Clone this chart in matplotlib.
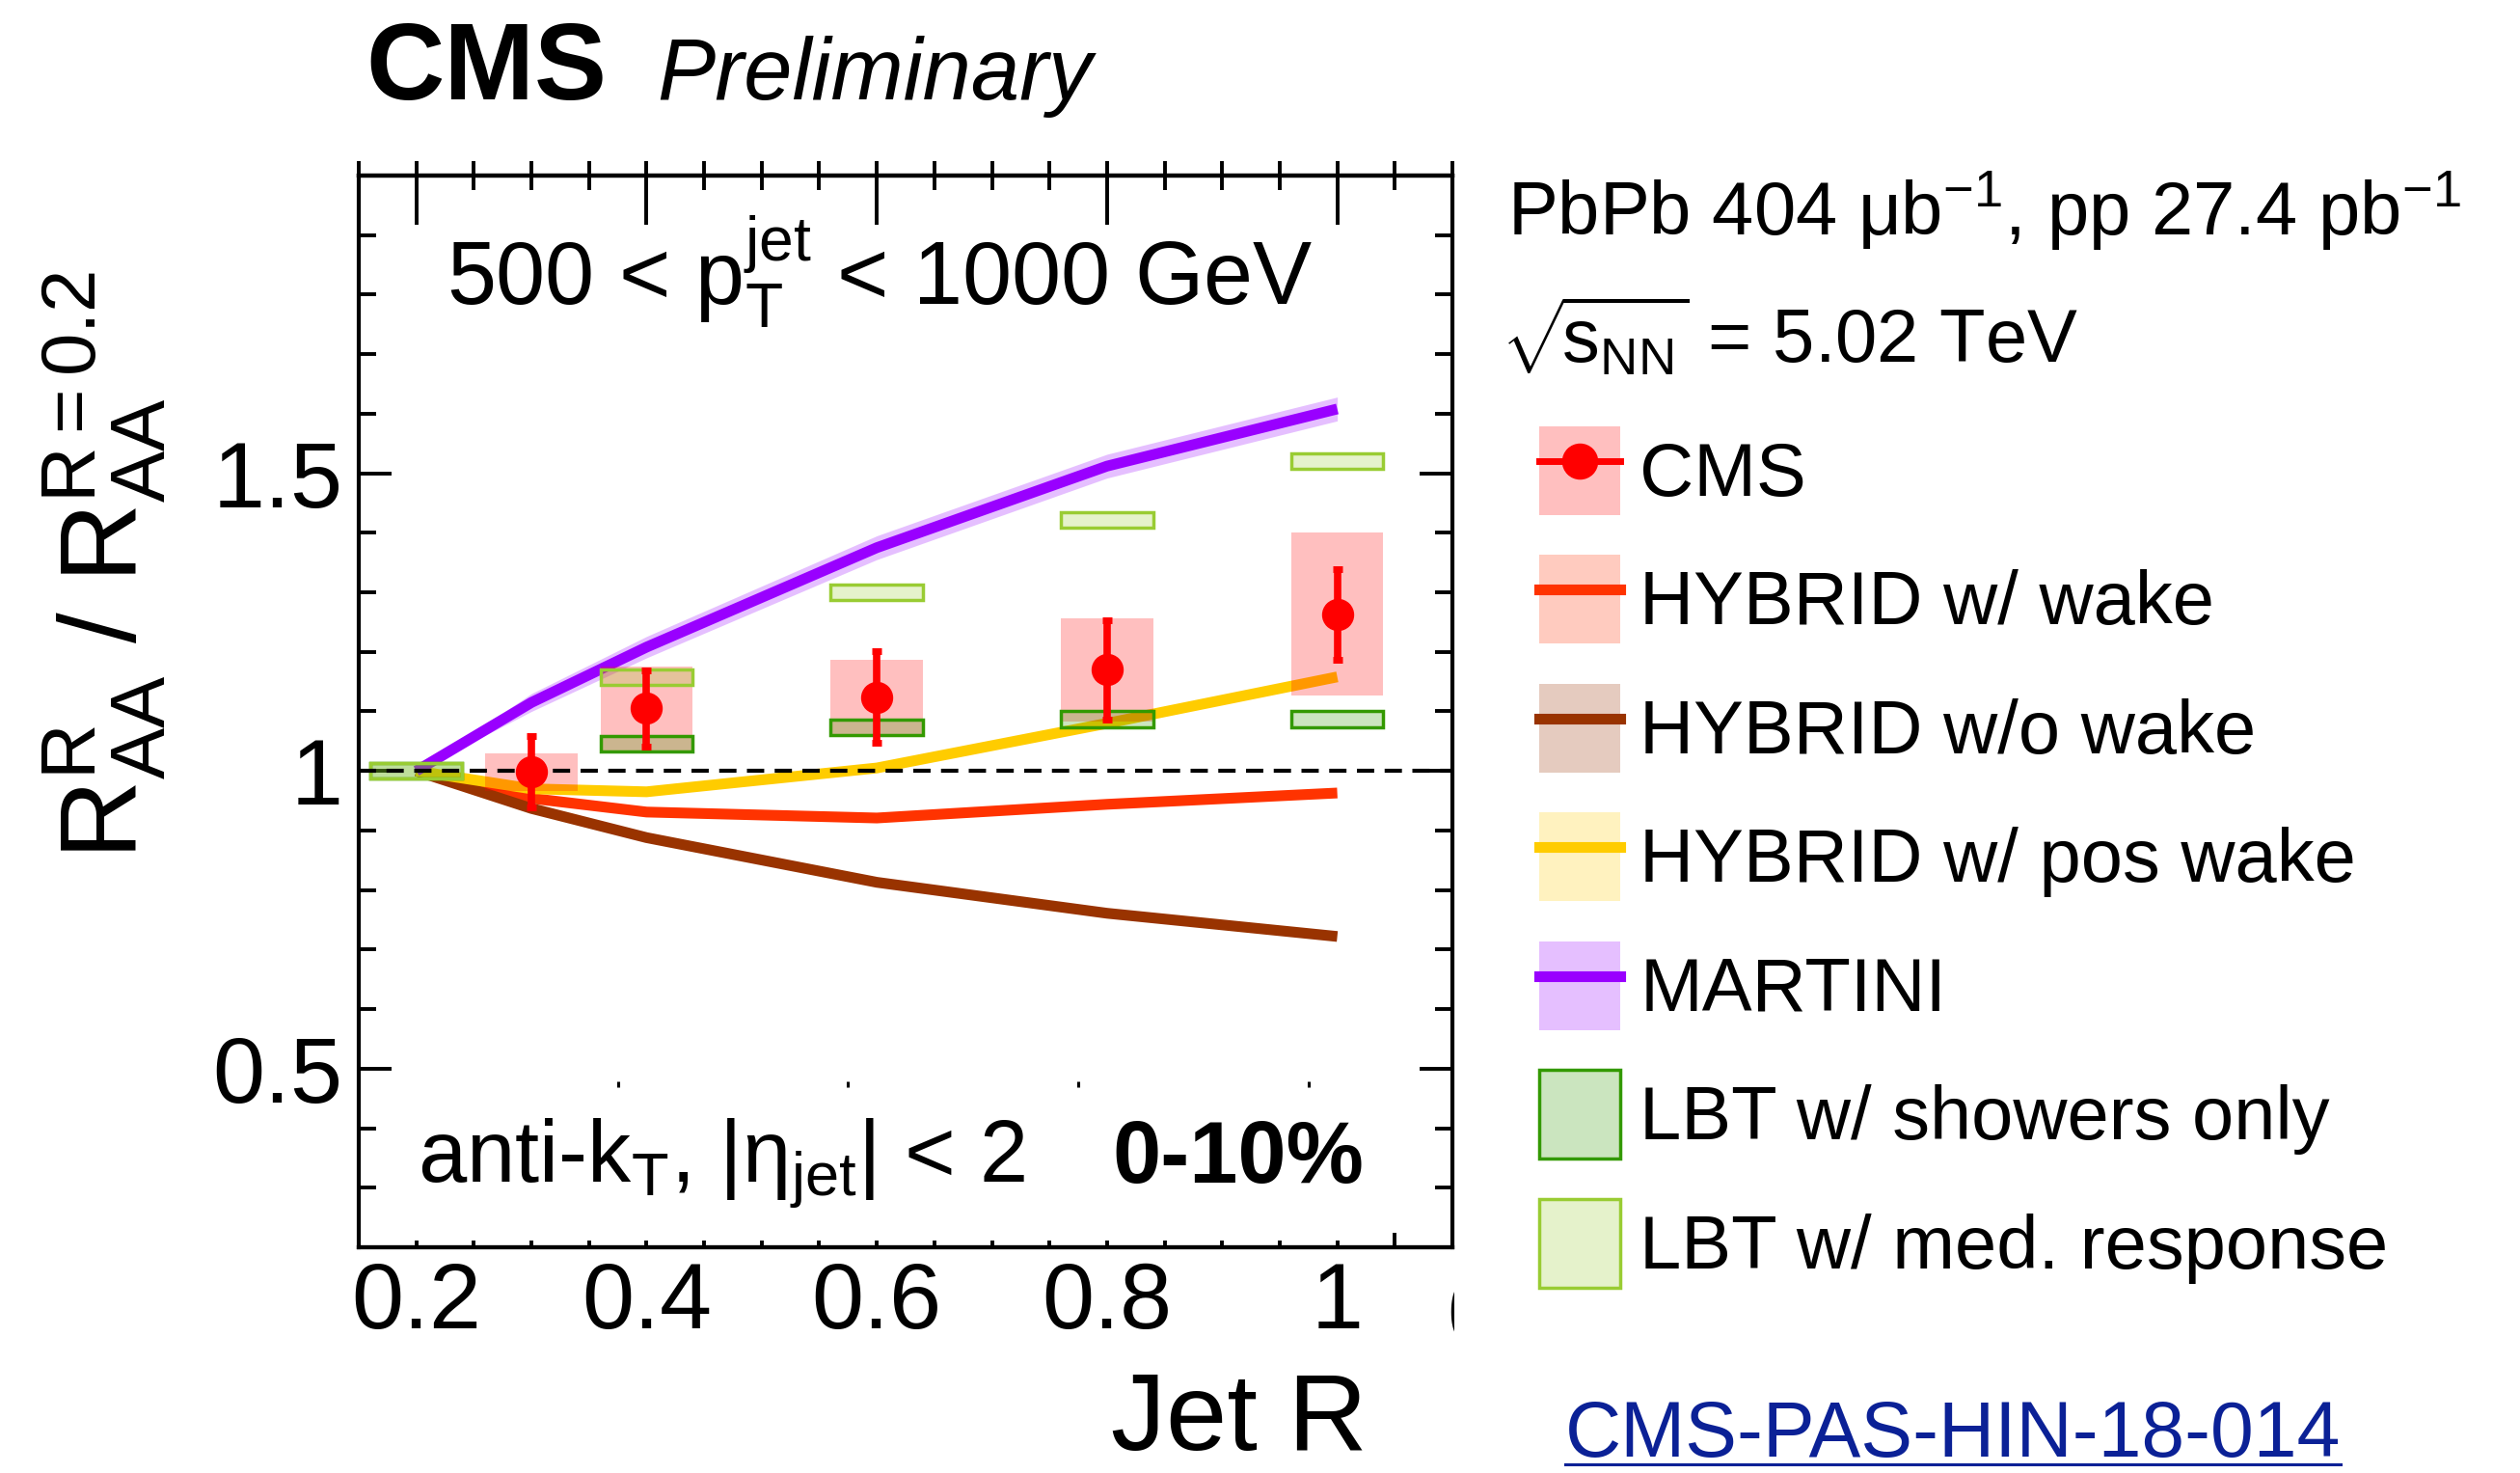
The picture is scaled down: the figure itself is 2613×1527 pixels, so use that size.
import matplotlib.pyplot as plt
from matplotlib.patches import Patch
from matplotlib.lines import Line2D
from matplotlib.ticker import FixedLocator, MultipleLocator, NullFormatter
from matplotlib.transforms import Bbox

plt.rcParams['font.family'] = ['Liberation Sans', 'DejaVu Sans']
plt.rcParams['mathtext.fontset'] = 'custom'
plt.rcParams['mathtext.rm'] = 'Liberation Sans'
plt.rcParams['mathtext.it'] = 'Liberation Sans:italic'
plt.rcParams['mathtext.bf'] = 'Liberation Sans:bold'
plt.rcParams['mathtext.default'] = 'regular'

# CMS measurement
cms_r = [0.3, 0.4, 0.6, 0.8, 1.0]
cms_val = [0.998, 1.105, 1.124, 1.170, 1.263]
cms_stat = [0.060, 0.064, 0.077, 0.083, 0.076]
cms_syst = [0.031, 0.070, 0.062, 0.087, 0.137]

# theory curves
model_r = [0.2, 0.3, 0.4, 0.6, 0.8, 1.0]
hybrid_wake = [1.0, 0.954, 0.931, 0.921, 0.944, 0.963]
hybrid_nowake = [1.0, 0.937, 0.888, 0.813, 0.761, 0.722]
hybrid_poswake = [1.0, 0.970, 0.965, 1.005, 1.080, 1.158]
martini = [1.0, 1.115, 1.208, 1.375, 1.512, 1.608]
martini_err = [0.0, 0.015, 0.018, 0.02, 0.02, 0.02]

lbt_r = [0.2, 0.4, 0.6, 0.8, 1.0]
lbt_shower = [1.0, 1.045, 1.073, 1.087, 1.087]
lbt_medium = [1.0, 1.158, 1.300, 1.421, 1.520]
lbt_err = [0.013, 0.013, 0.013, 0.013, 0.013]

# odd little tick marks left inside the frame
stray_x = [0.375, 0.575, 0.775, 0.975]
stray_y = [0.474, 0.474, 0.474, 0.474]

xtick_pos = [0.2, 0.4, 0.6, 0.8, 1.0]
xtick_labels = ['0.2', '0.4', '0.6', '0.8', '1']
ytick_pos = [0.5, 1.0, 1.5]
ytick_labels = ['0.5', '1', '1.5']

c_wake = '#ff3300'
c_nowake = '#993300'
c_pos = '#ffcc00'
c_martini = '#9900ff'
c_lbt1 = '#339900'
c_lbt2 = '#99cc33'

W, H = 2613, 1527
fig = plt.figure(figsize=(W / 100, H / 100), dpi=100)
ax = fig.add_axes([372 / W, 1 - 1293 / H, (1506 - 372) / W, (1293 - 182) / H])

# model curves
mlo = [v - e for v, e in zip(martini, martini_err)]
mhi = [v + e for v, e in zip(martini, martini_err)]
ax.fill_between(model_r, mlo, mhi, color=c_martini, alpha=0.25, lw=0, zorder=1)
for vals, col in [(hybrid_wake, c_wake), (hybrid_nowake, c_nowake),
                  (hybrid_poswake, c_pos), (martini, c_martini)]:
    ax.plot(model_r, vals, color=col, lw=8, solid_capstyle='butt', zorder=2)

# CMS systematics
cms_lo = [v - s for v, s in zip(cms_val, cms_syst)]
ax.bar(cms_r, [2 * s for s in cms_syst], bottom=cms_lo, width=0.08,
       color='red', alpha=0.25, lw=0, zorder=3)

# LBT boxes
ax.bar(lbt_r, [2 * e for e in lbt_err], bottom=[v - e for v, e in zip(lbt_shower, lbt_err)],
       width=0.08, facecolor=(0.2, 0.6, 0.0, 0.25), edgecolor=c_lbt1, lw=2.5, zorder=4)
ax.bar(lbt_r, [2 * e for e in lbt_err], bottom=[v - e for v, e in zip(lbt_medium, lbt_err)],
       width=0.08, facecolor=(0.6, 0.8, 0.2, 0.25), edgecolor=c_lbt2, lw=2.5, zorder=4)

ax.axhline(1.0, color='black', lw=3, dashes=(4.3, 2.6), zorder=5)

ax.errorbar(cms_r, cms_val, yerr=cms_stat, fmt='o', color='red', ms=23,
            elinewidth=5.5, capsize=3.6, capthick=5, zorder=6)

ax.plot(stray_x, stray_y, ls='none', marker='|', ms=4.5, mew=2.2, color='black', zorder=6)

# axes
ax.set_xlim(0.15, 1.1)
ax.set_ylim(0.2, 2.0)
for sp in ax.spines.values():
    sp.set_linewidth(3)
ax.xaxis.set_major_locator(FixedLocator(xtick_pos))
ax.set_xticklabels(xtick_labels)
ax.xaxis.set_minor_locator(MultipleLocator(0.05))
ax.yaxis.set_major_locator(FixedLocator(ytick_pos))
ax.set_yticklabels(ytick_labels)
ax.yaxis.set_minor_locator(MultipleLocator(0.1))
ax.tick_params(axis='x', which='both', direction='in', top=False, bottom=True,
               length=5, width=2.8, labelsize=70, pad=10)
ax.tick_params(axis='y', which='both', direction='in', left=True, right=True,
               width=2.8, labelsize=70, pad=12)
ax.tick_params(axis='y', which='major', length=24.5)
ax.tick_params(axis='y', which='minor', length=13)

sec_b = ax.secondary_xaxis('bottom')
sec_b.xaxis.set_major_locator(FixedLocator([1.05]))
sec_b.xaxis.set_major_formatter(NullFormatter())
sec_b.tick_params(direction='in', length=11, width=2.8)
sec_b.spines['bottom'].set_linewidth(3)

sec_t = ax.secondary_xaxis('top')
sec_t.xaxis.set_major_locator(FixedLocator(xtick_pos))
sec_t.xaxis.set_minor_locator(MultipleLocator(0.05))
sec_t.xaxis.set_major_formatter(NullFormatter())
sec_t.tick_params(which='major', direction='in', length=37, width=2.8)
sec_t.tick_params(which='minor', direction='in', length=11, width=2.8)
sec_t.spines['top'].set_linewidth(3)

sec_t2 = ax.secondary_xaxis('top')
sec_t2.xaxis.set_major_locator(MultipleLocator(0.05))
sec_t2.xaxis.set_major_formatter(NullFormatter())
sec_t2.tick_params(direction='out', length=11, width=2.8)
sec_t2.spines['top'].set_linewidth(3)

# clipped piece of a tick label at the right edge
tcut = fig.text(1500 / W, 1 - 1393 / H, '0', fontsize=70, ha='left', va='baseline')
tcut.set_clip_box(Bbox.from_extents(0, 0, 1508, H))
tcut.set_clip_on(True)

# texts
fig.text(379 / W, 1 - 103 / H, 'CMS', fontsize=81, fontweight='bold', va='baseline')
fig.text(681 / W, 1 - 103 / H, 'Preliminary', fontsize=65, style='italic', va='baseline')
fig.text(463 / W, 1 - 315 / H, r'500 < $p_{T}^{jet}$ < 1000 GeV', fontsize=66, va='baseline')
fig.text(433 / W, 1 - 1226 / H, r'anti-k$_{T}$, |$\eta_{jet}$| < 2', fontsize=65, va='baseline')
fig.text(1153 / W, 1 - 1226 / H, '0-10%', fontsize=65, fontweight='bold', va='baseline')
fig.text(1418 / W, 1 - 1503 / H, 'Jet R', fontsize=82, ha='right', va='baseline')
fig.text(108 / W, 1 - 281 / H, r'$R^{R}_{AA}$ / $R^{R=0.2}_{AA}$', fontsize=82,
         rotation=90, ha='center', va='top')

fig.text(1563 / W, 1 - 244 / H, r'PbPb 404 $\mu$b$^{-1}$, pp 27.4 pb$^{-1}$',
         fontsize=56, va='baseline')
fig.text(1556 / W, 1 - 376 / H, r'$\sqrt{\!s_{NN}}$ = 5.02 TeV', fontsize=56, va='baseline')

link = fig.text(1623 / W, 1 - 1510 / H, 'CMS-PAS-HIN-18-014', fontsize=58,
                color='#0b2196', va='baseline')
fig.canvas.draw()
bb = link.get_window_extent()
fig.add_artist(Line2D([bb.x0 / W, bb.x1 / W], [(H - 1518) / H, (H - 1518) / H],
                      color='#0b2196', lw=2.2, transform=fig.transFigure))

# legend
handles = [
    (Patch(facecolor='red', alpha=0.25, lw=0),
     Line2D([], [], color='red', lw=5, marker='o', ms=26)),
    (Patch(facecolor=c_wake, alpha=0.25, lw=0), Line2D([], [], color=c_wake, lw=8)),
    (Patch(facecolor=c_nowake, alpha=0.25, lw=0), Line2D([], [], color=c_nowake, lw=8)),
    (Patch(facecolor=c_pos, alpha=0.25, lw=0), Line2D([], [], color=c_pos, lw=8)),
    (Patch(facecolor=c_martini, alpha=0.25, lw=0), Line2D([], [], color=c_martini, lw=8)),
    Patch(facecolor=(0.2, 0.6, 0.0, 0.25), edgecolor=c_lbt1, lw=2.5),
    Patch(facecolor=(0.6, 0.8, 0.2, 0.25), edgecolor=c_lbt2, lw=2.5),
]
labels = ['CMS', 'HYBRID w/ wake', 'HYBRID w/o wake', 'HYBRID w/ pos wake',
          'MARTINI', 'LBT w/ showers only', 'LBT w/ med. response']
fig.legend(handles, labels, loc='upper left', bbox_to_anchor=(1596 / W, 1 - 442 / H),
           frameon=False, fontsize=56, handlelength=1.08, handleheight=1.44,
           handletextpad=0.26, labelspacing=0.535, borderpad=0, borderaxespad=0,
           numpoints=1)

fig.savefig('out.png', dpi=100)
